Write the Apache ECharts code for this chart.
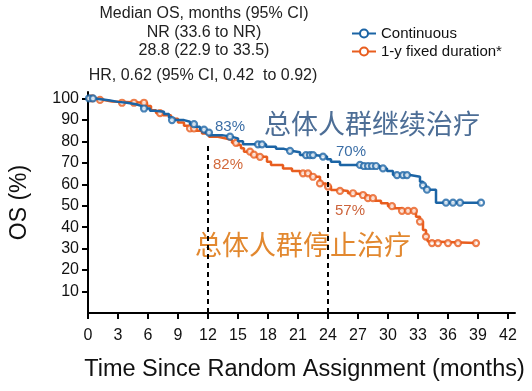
<!DOCTYPE html>
<html>
<head>
<meta charset="utf-8">
<script src="https://cdn.jsdelivr.net/npm/echarts@6/dist/echarts.min.js"></script>
<style>html,body{margin:0;padding:0;background:#fff;}#c{width:532px;height:391px;}</style>
</head>
<body>
<div id="c"></div>
<script>
// Kaplan-Meier step points (time in months, OS %)
const contTime = [0, 0.6, 1.5, 2.2, 3.0, 3.9, 4.8, 5.4, 6.2, 6.7, 7.6, 8.1, 8.4, 9.6, 10.2, 10.7, 11.2, 11.7, 12.2, 13.4, 14.3, 15.0, 15.5, 17.8, 18.8, 19.6, 20.3, 21.2, 22.6, 23.9, 24.3, 25.2, 27.3, 29.2, 29.9, 30.5, 32.2, 33.2, 33.5, 33.8, 34.8];
const contSurv = [100, 99.5, 99.0, 98.4, 98.0, 97.3, 96.4, 95.3, 94.3, 93.8, 92.7, 91.1, 89.9, 89.1, 88.0, 86.8, 85.5, 84.1, 82.9, 82.2, 81.4, 80.0, 78.6, 77.5, 76.5, 75.6, 74.9, 73.6, 72.9, 71.6, 70.5, 69.0, 68.5, 67.4, 66.2, 64.3, 63.5, 61.2, 59.5, 57.5, 51.4];
const contCensor = [0.1, 0.5, 5.6, 8.4, 10.6, 11.6, 12.1, 14.2, 17.0, 17.4, 20.2, 21.8, 22.2, 22.5, 23.5, 27.2, 27.6, 28.0, 28.4, 28.8, 29.5, 30.9, 31.5, 31.9, 33.5, 33.9, 35.8, 36.5, 37.2, 39.3];

const fixedTime = [0, 0.8, 1.6, 2.4, 5.9, 6.3, 6.8, 7.5, 8.3, 9.0, 9.6, 10.2, 10.8, 11.4, 12.1, 13.0, 13.8, 14.4, 14.9, 15.3, 15.6, 16.3, 16.8, 17.9, 18.3, 19.5, 20.4, 21.2, 22.3, 23.2, 23.8, 24.3, 25.2, 26.0, 26.6, 27.9, 28.7, 29.3, 30.0, 30.6, 31.4, 32.8, 33.2, 33.5, 33.8, 34.0, 34.3];
const fixedSurv = [100, 99.3, 98.6, 98.0, 96.5, 94.5, 93.2, 92.2, 90.5, 88.8, 87.3, 86.0, 84.9, 83.7, 82.1, 81.3, 80.6, 79.3, 78.3, 76.8, 75.2, 73.8, 72.8, 70.5, 69.0, 67.4, 66.2, 65.1, 63.5, 60.4, 58.9, 57.3, 56.9, 55.8, 55.0, 53.5, 52.3, 51.1, 49.8, 48.8, 47.6, 44.9, 42.6, 38.7, 35.6, 33.3, 32.6];
const fixedCensor = [0.4, 1.2, 3.4, 4.6, 5.6, 7.2, 10.2, 10.6, 14.8, 16.2, 16.6, 17.2, 21.5, 22.0, 22.5, 23.2, 24.0, 25.2, 26.5, 27.5, 28.0, 28.5, 30.4, 31.4, 32.0, 32.6, 33.2, 33.8, 34.4, 35.0, 36.0, 37.0, 38.8];

const xTicks = [0, 3, 6, 9, 12, 15, 18, 21, 24, 27, 30, 33, 36, 39, 42];
const yTicks = [10, 20, 30, 40, 50, 60, 70, 80, 90, 100];
const landmarkTime = [12, 24];
const landmarkTop = [78.5, 71];

const seriesNames = ['Continuous', '1-y fixed duration*'];
const BLUE = '#1b64a5', ORANGE = '#e85d1e';

function survAt(times, survs, t) {
  let s = survs[0];
  for (let i = 0; i < times.length; i++) { if (times[i] <= t) s = survs[i]; }
  return s;
}
function lineData(times, survs, censor) {
  const d = times.map((t, i) => [t, survs[i]]);
  const last = Math.max(...censor);
  d.push([last, survAt(times, survs, last)]);
  return d;
}
function censorData(times, survs, censor) {
  return censor.map(t => [t, survAt(times, survs, t)]);
}

const chart = echarts.init(document.getElementById('c'), null, {renderer: 'canvas'});
const FONT = 'Liberation Sans, Arial, sans-serif';
const CJK = 'Noto Sans CJK SC';

chart.setOption({
  animation: false,
  grid: {left: 88, right: 17, top: 92, bottom: 78},
  legend: {
    data: seriesNames,
    orient: 'vertical',
    left: 346, top: 21,
    itemWidth: 24, itemHeight: 10, itemGap: 3,
    textStyle: {fontFamily: FONT, fontSize: 15, color: '#111'}
  },
  xAxis: {
    type: 'value', min: 0, max: 42.7,
    axisLine: {lineStyle: {color: '#000', width: 2}},
    axisTick: {customValues: xTicks, length: 6, lineStyle: {color: '#000', width: 2}},
    axisLabel: {customValues: xTicks, fontFamily: FONT, fontSize: 16, color: '#111', margin: 15},
    splitLine: {show: false},
    name: 'Time Since Random Assignment (months)',
    nameLocation: 'middle', nameGap: 45,
    nameTextStyle: {fontFamily: FONT, fontSize: 23.5, color: '#111', padding: [0, 0, 0, 6]}
  },
  yAxis: {
    type: 'value', min: 0, max: 103,
    axisLine: {show: true, lineStyle: {color: '#000', width: 2}},
    axisTick: {show: true, customValues: yTicks, length: 6, lineStyle: {color: '#000', width: 2}},
    axisLabel: {customValues: yTicks, fontFamily: FONT, fontSize: 16, color: '#111', margin: 9},
    splitLine: {show: false},
    name: 'OS (%)', nameLocation: 'middle', nameGap: 57, nameRotate: 90,
    nameTextStyle: {fontFamily: FONT, fontSize: 23, color: '#111'}
  },
  series: [
    {
      name: seriesNames[1], type: 'line', step: 'end', color: ORANGE,
      symbol: 'emptyCircle', symbolSize: 7, showSymbol: false,
      lineStyle: {width: 2.5, color: ORANGE},
      itemStyle: {color: ORANGE, borderWidth: 2},
      data: lineData(fixedTime, fixedSurv, fixedCensor),
      markLine: {
        silent: true, symbol: 'none', label: {show: false},
        lineStyle: {color: '#000', type: [5, 4], width: 2},
        data: landmarkTime.map((t, i) => [{coord: [t, 0]}, {coord: [t, landmarkTop[i]]}])
      },
      z: 2
    },
    {
      name: 'fixedCensor', type: 'scatter', symbol: 'circle', symbolSize: 6,
      itemStyle: {color: '#fff', borderColor: ORANGE, borderWidth: 2.2},
      data: censorData(fixedTime, fixedSurv, fixedCensor), z: 3
    },
    {
      name: seriesNames[0], type: 'line', step: 'end', color: BLUE,
      symbol: 'emptyCircle', symbolSize: 7, showSymbol: false,
      lineStyle: {width: 2.5, color: BLUE},
      itemStyle: {color: BLUE, borderWidth: 2},
      data: lineData(contTime, contSurv, contCensor), z: 4
    },
    {
      name: 'contCensor', type: 'scatter', symbol: 'circle', symbolSize: 6,
      itemStyle: {color: '#fff', borderColor: BLUE, borderWidth: 2.2},
      data: censorData(contTime, contSurv, contCensor), z: 5
    }
  ],
  graphic: [
    {type: 'text', style: {text: 'Median OS, months (95% CI)', x: 204, y: 14, align: 'center', verticalAlign: 'middle', font: '16px ' + FONT, fill: '#222'}},
    {type: 'text', style: {text: 'NR (33.6 to NR)', x: 204, y: 33, align: 'center', verticalAlign: 'middle', font: '16px ' + FONT, fill: '#222'}},
    {type: 'text', style: {text: '28.8 (22.9 to 33.5)', x: 204, y: 51, align: 'center', verticalAlign: 'middle', font: '16px ' + FONT, fill: '#222'}},
    {type: 'text', style: {text: 'HR, 0.62 (95% CI, 0.42  to 0.92)', x: 203, y: 76, align: 'center', verticalAlign: 'middle', font: '16px ' + FONT, fill: '#222'}},
    {type: 'text', style: {text: '总体人群继续治疗', x: 372, y: 124, align: 'center', verticalAlign: 'middle', font: '27px "' + CJK + '"', fill: '#4d6e96'}},
    {type: 'text', style: {text: '总体人群停止治疗', x: 303, y: 245, align: 'center', verticalAlign: 'middle', font: '27px "' + CJK + '"', fill: '#e2882f'}},
    {type: 'text', style: {text: '83%', x: 230, y: 127, align: 'center', verticalAlign: 'middle', font: '15px ' + FONT, fill: '#3b6ea6'}},
    {type: 'text', style: {text: '82%', x: 228, y: 165, align: 'center', verticalAlign: 'middle', font: '15px ' + FONT, fill: '#d2683a'}},
    {type: 'text', style: {text: '70%', x: 351, y: 152, align: 'center', verticalAlign: 'middle', font: '15px ' + FONT, fill: '#3b6ea6'}},
    {type: 'text', style: {text: '57%', x: 350, y: 211, align: 'center', verticalAlign: 'middle', font: '15px ' + FONT, fill: '#cc633b'}}
  ]
});
</script>
</body>
</html>
